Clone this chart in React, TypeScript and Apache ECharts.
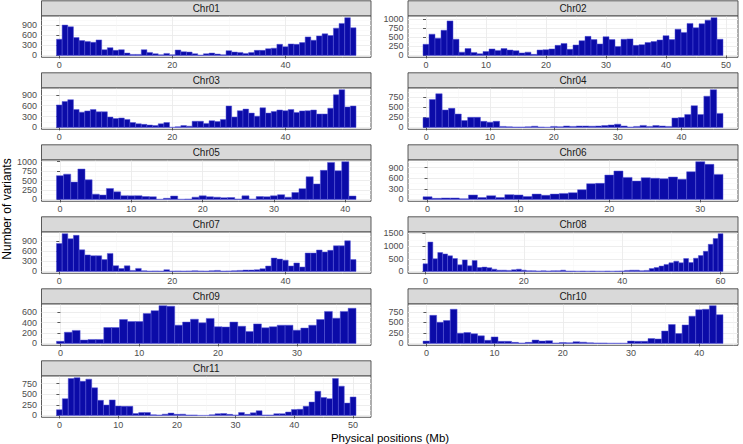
import React, { useEffect, useRef } from "react";
import * as echarts from "echarts";

// Chromosome panels, in facet order
const chromosomes = ["Chr01", "Chr02", "Chr03", "Chr04", "Chr05", "Chr06", "Chr07", "Chr08", "Chr09", "Chr10", "Chr11"];

// Variant counts per 1 Mb bin, bin k centred on k Mb
const chr01 = [480, 900, 850, 530, 440, 410, 390, 460, 170, 230, 150, 170, 70, 30, 30, 170, 90, 50, 20, 60, 20, 160, 110, 100, 50, 10, 50, 70, 40, 20, 140, 100, 90, 60, 90, 150, 150, 200, 215, 330, 260, 340, 330, 380, 550, 450, 580, 640, 590, 810, 950, 1120, 820];
const chr02 = [310, 590, 480, 700, 960, 450, 90, 190, 80, 45, 110, 180, 140, 190, 150, 130, 70, 90, 30, 150, 160, 180, 280, 330, 170, 290, 410, 530, 440, 320, 520, 440, 250, 450, 460, 280, 300, 360, 385, 430, 550, 440, 730, 640, 890, 770, 880, 980, 1050, 450];
const chr03 = [620, 715, 765, 495, 420, 455, 495, 430, 430, 285, 245, 260, 220, 135, 100, 85, 65, 50, 100, 135, 5, 20, 50, 35, 170, 170, 110, 185, 160, 220, 590, 285, 460, 505, 395, 310, 540, 395, 440, 480, 460, 495, 410, 455, 460, 480, 370, 370, 530, 900, 1040, 565, 590];
const chr04 = [240, 690, 830, 430, 470, 330, 170, 250, 250, 150, 130, 150, 25, 15, 10, 10, 15, 30, 10, 5, 25, 15, 35, 25, 35, 35, 30, 35, 45, 60, 80, 35, 10, 25, 50, 25, 45, 35, 25, 230, 245, 320, 535, 320, 770, 930, 345];
const chr05 = [630, 670, 460, 805, 520, 140, 115, 290, 200, 100, 95, 100, 75, 70, 5, 30, 90, 5, 10, 60, 95, 70, 60, 45, 50, 10, 95, 10, 75, 70, 95, 125, 60, 185, 285, 600, 410, 770, 980, 760, 1000, 90];
const chr06 = [75, 30, 40, 40, 20, 125, 55, 105, 55, 135, 125, 85, 150, 115, 150, 170, 190, 275, 445, 455, 690, 805, 625, 520, 615, 600, 585, 635, 570, 785, 1070, 995, 710];
const chr07 = [830, 1120, 970, 1070, 640, 490, 465, 465, 350, 535, 170, 85, 165, 30, 90, 20, 10, 15, 10, 50, 10, 15, 10, 15, 20, 15, 10, 20, 30, 10, 15, 20, 30, 40, 40, 50, 80, 160, 395, 365, 335, 160, 250, 130, 545, 545, 635, 575, 625, 760, 760, 910, 350];
const chr08 = [300, 1160, 500, 745, 690, 615, 510, 260, 455, 220, 430, 155, 170, 145, 90, 50, 50, 40, 65, 90, 50, 30, 25, 20, 25, 20, 25, 25, 50, 15, 15, 10, 15, 10, 15, 10, 10, 15, 10, 15, 20, 40, 50, 50, 25, 40, 115, 155, 210, 275, 340, 405, 340, 510, 350, 520, 625, 795, 1070, 1300, 1490];
const chr09 = [40, 215, 250, 65, 75, 75, 305, 305, 460, 420, 420, 575, 630, 725, 715, 350, 410, 465, 395, 480, 320, 315, 410, 330, 230, 375, 300, 320, 350, 350, 255, 295, 350, 460, 615, 485, 615, 675];
const chr10 = [55, 670, 505, 545, 815, 245, 260, 230, 180, 75, 155, 50, 50, 25, 10, 25, 80, 55, 65, 10, 20, 15, 40, 30, 15, 10, 10, 5, 5, 5, 55, 50, 50, 115, 105, 295, 450, 235, 440, 650, 805, 815, 900, 685];
const chr11 = [135, 395, 870, 890, 805, 855, 650, 355, 245, 365, 220, 215, 215, 45, 70, 70, 15, 10, 30, 55, 25, 30, 10, 10, 0, 0, 15, 40, 45, 25, 10, 70, 25, 60, 110, 10, 10, 40, 40, 80, 140, 145, 215, 315, 570, 420, 395, 870, 690, 290, 435];

const counts = [chr01, chr02, chr03, chr04, chr05, chr06, chr07, chr08, chr09, chr10, chr11];

// Tick spacing per panel
const yTickSteps = [300, 250, 300, 250, 250, 300, 300, 500, 200, 250, 250];
const xTickSteps = [20, 10, 20, 10, 10, 10, 20, 20, 10, 10, 10];

const xTitle = "Physical positions (Mb)";
const yTitle = "Number of variants";

const FONT = "Liberation Sans, Arial, Helvetica, sans-serif";

function ticksIn(lo: number, hi: number, step: number, offset: number) {
  const out: number[] = [];
  const start = Math.ceil((lo - offset) / step);
  for (let k = start; k * step + offset <= hi + 1e-9; k++) out.push(k * step + offset);
  return out;
}

export default function App() {
  const ref = useRef<HTMLDivElement>(null);

  useEffect(() => {
    const chart = echarts.init(ref.current!, null, { renderer: "svg" });

    const grids: any[] = [];
    const xAxes: any[] = [];
    const yAxes: any[] = [];
    const series: any[] = [];
    const graphics: any[] = [];

    const colLeft = [41.5, 408];
    const colWidth = [329.5, 330];
    const rowPitch = 72;
    const stripH = 15;
    const plotH = 41.5;

    counts.forEach((vals, i) => {
      const col = i % 2;
      const row = Math.floor(i / 2);
      const left = colLeft[col];
      const width = colWidth[col];
      const stripTop = 0.8 + rowPitch * row;
      const top = stripTop + stripH;

      grids.push({
        left,
        top,
        width,
        height: plotH,
        show: true,
        backgroundColor: "#FFFFFF",
        borderColor: "#333333",
        borderWidth: 0.8,
        containLabel: false,
      });

      const n = vals.length;
      const xmin = -0.5 - 0.05 * n;
      const xmax = n - 0.5 + 0.05 * n;
      const ymaxData = Math.max(...vals);
      const ymin = -0.05 * ymaxData;
      const ymax = 1.05 * ymaxData;

      const xs = xTickSteps[i];
      const ys = yTickSteps[i];
      const xMajor = ticksIn(xmin, xmax, xs, 0);
      const xMinor = ticksIn(xmin, xmax, xs, xs / 2);
      const yMajor = ticksIn(ymin, ymax, ys, 0);
      const yMinor = ticksIn(ymin, ymax, ys, ys / 2);

      const labelStyle = { fontSize: 9, color: "#4D4D4D", fontFamily: FONT };

      xAxes.push({
        type: "value",
        gridIndex: i,
        min: xmin,
        max: xmax,
        position: "bottom",
        axisLine: { show: false },
        axisTick: { show: true, length: 3, lineStyle: { color: "#333333", width: 0.8 }, customValues: xMajor },
        axisLabel: { ...labelStyle, margin: 3.5, customValues: xMajor, formatter: (v: number) => String(Math.round(v)) },
        splitLine: { show: true, lineStyle: { color: "#EBEBEB", width: 0.9 } },
      });
      xAxes.push({
        type: "value",
        gridIndex: i,
        min: xmin,
        max: xmax,
        position: "top",
        axisLine: { show: false },
        axisTick: { show: false, customValues: xMinor },
        axisLabel: { show: false },
        splitLine: { show: true, lineStyle: { color: "#F4F4F4", width: 0.5 } },
      });
      yAxes.push({
        type: "value",
        gridIndex: i,
        min: ymin,
        max: ymax,
        position: "left",
        axisLine: { show: false },
        axisTick: { show: true, length: 3, lineStyle: { color: "#333333", width: 0.8 }, customValues: yMajor },
        axisLabel: { ...labelStyle, margin: 4.5, lineHeight: 9, customValues: yMajor, formatter: (v: number) => String(Math.round(v)) },
        splitLine: { show: true, lineStyle: { color: "#EBEBEB", width: 0.9 } },
      });
      yAxes.push({
        type: "value",
        gridIndex: i,
        min: ymin,
        max: ymax,
        position: "right",
        axisLine: { show: false },
        axisTick: { show: false, customValues: yMinor },
        axisLabel: { show: false },
        splitLine: { show: true, lineStyle: { color: "#F4F4F4", width: 0.5 } },
      });

      series.push({
        type: "custom",
        xAxisIndex: 2 * i,
        yAxisIndex: 2 * i,
        data: vals.map((v, k) => [k, v]),
        clip: true,
        renderItem: (params: any, api: any) => {
          const x = api.value(0);
          const y = api.value(1);
          const p0 = api.coord([x - 0.5, y]);
          const p1 = api.coord([x + 0.5, 0]);
          return {
            type: "rect",
            shape: { x: p0[0], y: p0[1], width: p1[0] - p0[0], height: p1[1] - p0[1] },
            style: { fill: "#0B0BA8", stroke: "#5656D8", lineWidth: 0.5 },
          };
        },
      });

      graphics.push({
        type: "rect",
        shape: { x: left, y: stripTop, width, height: stripH },
        style: { fill: "#D9D9D9", stroke: "#333333", lineWidth: 0.8 },
        z: 10,
      });
      graphics.push({
        type: "text",
        x: left + width / 2,
        y: stripTop + stripH / 2 + 0.5,
        style: {
          text: chromosomes[i],
          fontSize: 10,
          fill: "#1A1A1A",
          fontFamily: FONT,
          align: "center",
          verticalAlign: "middle",
        },
        z: 11,
      });
    });

    graphics.push({
      type: "text",
      x: 7,
      y: 209,
      rotation: Math.PI / 2,
      style: { text: yTitle, fontSize: 12, fill: "#000000", fontFamily: FONT, align: "center", verticalAlign: "middle" },
    });
    graphics.push({
      type: "text",
      x: 390,
      y: 438,
      style: { text: xTitle, fontSize: 11.5, fill: "#000000", fontFamily: FONT, align: "center", verticalAlign: "middle" },
    });

    chart.setOption({
      animation: false,
      backgroundColor: "#FFFFFF",
      grid: grids,
      xAxis: xAxes,
      yAxis: yAxes,
      series,
      graphic: graphics,
    });

    return () => chart.dispose();
  }, []);

  return <div ref={ref} style={{ position: "fixed", left: 0, top: 0, width: 743, height: 444 }} />;
}
